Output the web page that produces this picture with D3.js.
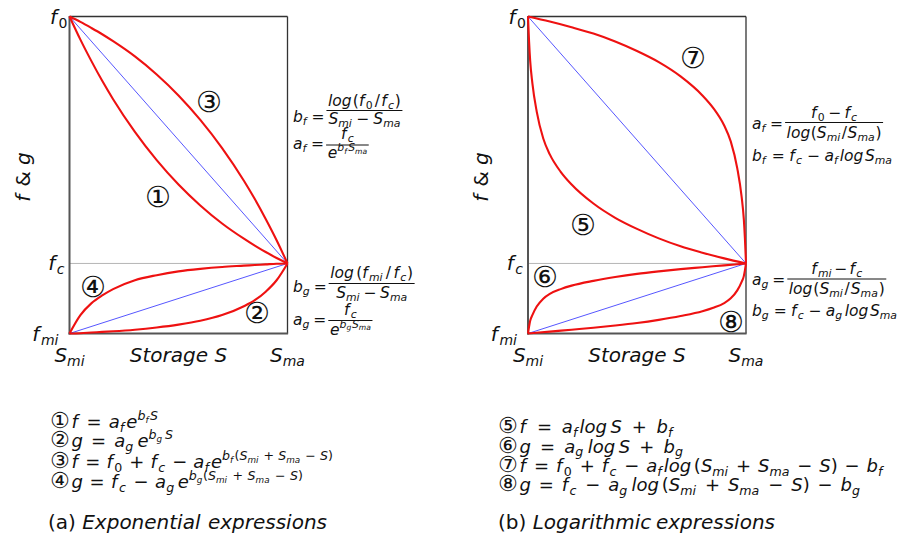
<!DOCTYPE html>
<html>
<head>
<meta charset="utf-8">
<script src="https://cdn.jsdelivr.net/npm/d3@7"></script>
<style>
  body { margin: 0; background: #fff; }
  svg { font-family: "DejaVu Sans", sans-serif; }
  text { white-space: pre; }
</style>
</head>
<body>
<svg id="chart" width="900" height="545"></svg>
<script>
// normalised storage S (Smi = 0, Sma = 1) and normalised f / g (fmi = 0, f0 = 1)
var fc = 0.221;

// (a) exponential curves
var sExp = [0, 0.05, 0.1, 0.15, 0.2, 0.3, 0.4, 0.5, 0.6, 0.7, 0.8, 0.85, 0.9, 0.95, 1];
var exp1 = [1.00, 0.927, 0.860, 0.797, 0.739, 0.636, 0.547, 0.470, 0.404, 0.347, 0.299, 0.277, 0.257, 0.238, 0.221];
var exp2 = [0, 0.001, 0.003, 0.005, 0.007, 0.012, 0.019, 0.028, 0.040, 0.058, 0.086, 0.105, 0.132, 0.168, 0.221];
var exp3 = [1.00, 0.983, 0.964, 0.944, 0.922, 0.874, 0.817, 0.751, 0.674, 0.585, 0.482, 0.424, 0.361, 0.294, 0.221];
var exp4 = [0, 0.058, 0.095, 0.12, 0.14, 0.168, 0.184, 0.196, 0.204, 0.210, 0.214, 0.216, 0.218, 0.220, 0.221];

// (b) logarithmic curves
var sLogA = [0, 0.005, 0.01, 0.02, 0.04, 0.07, 0.1, 0.15, 0.2, 0.3, 0.4, 0.5, 0.6, 0.7, 0.8, 0.9, 1];
var log5 = [1.0, 0.92, 0.86, 0.79, 0.70, 0.615, 0.565, 0.51, 0.47, 0.41, 0.365, 0.33, 0.30, 0.275, 0.255, 0.237, 0.221];
var log6 = [0, 0.022, 0.04, 0.058, 0.085, 0.11, 0.125, 0.14, 0.151, 0.166, 0.178, 0.188, 0.196, 0.203, 0.209, 0.215, 0.221];
var sLogB = [0, 0.1, 0.2, 0.3, 0.4, 0.5, 0.6, 0.7, 0.8, 0.85, 0.9, 0.93, 0.96, 0.98, 0.99, 0.995, 1];
var log7 = [1.0, 0.984, 0.966, 0.946, 0.921, 0.891, 0.856, 0.811, 0.751, 0.711, 0.656, 0.606, 0.521, 0.431, 0.361, 0.301, 0.221];
var log8 = [0, 0.006, 0.012, 0.018, 0.025, 0.033, 0.043, 0.055, 0.07, 0.081, 0.096, 0.111, 0.136, 0.163, 0.181, 0.199, 0.221];

// reference (straight) lines
var lineF = [[0, 1], [1, fc]];
var lineG = [[0, 0], [1, fc]];

// ticks
var yTickVals = [1, fc, 0];
var yTickLabels = ["f_{0}", "f_{c}", "f_{mi}"];
var xTickVals = [0, 1];
var xTickLabels = ["S_{mi}", "S_{ma}"];

// circled curve numbers, anchored in data units
var markersA = [["①", 0.406, 0.431], ["②", 0.86, 0.065], ["③", 0.64, 0.73], ["④", 0.108, 0.147]];
var markersB = [["⑤", 0.252, 0.342], ["⑥", 0.078, 0.178], ["⑦", 0.757, 0.869], ["⑧", 0.931, 0.036]];

// expression lists under the panels
var exprA = [
    "①f = a_{f}e^{b_{f}S}",
    "②g = a_{g} e^{b_{g} S}",
    "③f = f_{0} + f_{c} − a_{f}e^{b_{f}(S_{mi} + S_{ma} − S)}",
    "④g = f_{c} − a_{g} e^{b_{g}(S_{mi} + S_{ma} − S)}"
];
var exprB = [
    "⑤f = a_{f}log S + b_{f}",
    "⑥g = a_{g} log S + b_{g}",
    "⑦f = f_{0} + f_{c} − a_{f}log (S_{mi} + S_{ma} − S) − b_{f}",
    "⑧g = f_{c} − a_{g} log (S_{mi} + S_{ma} − S) − b_{g}"
];
// right ends of the list lines in the reference
var exprAEnd = [158, 173, 333, 303];
var exprBEnd = [675, 683, 885, 860];

var svg = d3.select("#chart");

// ---- tiny mathtext-like renderer ----
function parseMath(s) {
    var i = 0;
    function group() {
        var out = [];
        while (i < s.length) {
            var c = s[i];
            if (c === "}") { i++; return out; }
            if (c === "_" || c === "^") {
                i++;
                var kids;
                if (s[i] === "{") { i++; kids = group(); }
                else { kids = [{ t: "c", c: s[i] }]; i++; }
                out.push({ t: c === "_" ? "sub" : "sup", kids: kids });
                continue;
            }
            if (c === "!" && s[i + 1] === "{") {
                i += 2;
                out.push({ t: "rm", kids: group() });
                continue;
            }
            out.push({ t: "c", c: c });
            i++;
        }
        return out;
    }
    return group();
}

var circled = "①②③④⑤⑥⑦⑧";

function flatten(nodes, size, shift, rm, out) {
    nodes.forEach(function (n) {
        if (n.t === "sub" || n.t === "sup") {
            var sh = n.t === "sub" ? size * 0.2 : -size * 0.42;
            flatten(n.kids, size * 0.7, shift + sh, rm, out);
            out.push({ fixed: size * 0.06 });
        } else if (n.t === "rm") {
            flatten(n.kids, size, shift, true, out);
        } else {
            var ch = n.c;
            if (ch === " ") { out.push({ gap: 0.6 * size }); return; }
            if (ch === "~") ch = " ";
            var it = !rm && /[A-Za-z]/.test(ch);
            var circ = circled.indexOf(ch) >= 0;
            var sz = circ ? size * 1.22 : size;
            var op = "=+−".indexOf(ch) >= 0;
            if (op) out.push({ gap: size });
            out.push({ text: ch, size: sz, shift: shift, italic: it });
            if (op) out.push({ gap: size });
            if (circ) out.push({ fixed: size * 0.1 });
            if (it && ch === "f") out.push({ fixed: size * 0.08 });
        }
    });
    return out;
}

function mathText(g, x, y, str, size, anchor, target) {
    var toks = flatten(parseMath(str), size, 0, false, []);
    var runs = [], pendGap = 0, pendFix = 0;
    toks.forEach(function (k) {
        if (k.gap !== undefined) { pendGap += k.gap; return; }
        if (k.fixed !== undefined) { pendFix += k.fixed; return; }
        var last = runs[runs.length - 1];
        if (last && !pendGap && !pendFix && last.size === k.size && last.shift === k.shift && last.italic === k.italic) {
            last.text += k.text;
        } else {
            runs.push({ text: k.text, size: k.size, shift: k.shift, italic: k.italic, gap: runs.length ? pendGap : 0, fix: runs.length ? pendFix : 0 });
            pendGap = 0; pendFix = 0;
        }
    });
    var t = g.append("text")
        .attr("x", x).attr("y", y)
        .attr("font-size", size)
        .attr("text-anchor", anchor || "start")
        .attr("fill", "#111");
    var prev = 0, u0 = 0.12;
    var spans = runs.map(function (r) {
        var sp = t.append("tspan")
            .attr("dy", (r.shift - prev).toFixed(2))
            .attr("dx", (r.fix + u0 * r.gap).toFixed(2))
            .attr("font-size", r.size.toFixed(2))
            .attr("font-style", r.italic ? "italic" : "normal")
            .text(r.text);
        prev = r.shift;
        return sp;
    });
    if (target) {
        var gsum = d3.sum(runs, function (r) { return r.gap; });
        if (gsum > 0) {
            var w0 = t.node().getBBox().width;
            var u = Math.max(0.04, (target - (w0 - u0 * gsum)) / gsum);
            spans.forEach(function (sp, i) {
                sp.attr("dx", (runs[i].fix + u * runs[i].gap).toFixed(2));
            });
        }
    }
    return t;
}

// label = num / den, bar at barY
function fracEq(g, x, barY, label, num, den, size, off, tw) {
    tw = tw || [];
    var lt = mathText(g, x, barY + off[0], label, size);
    var left = x + lt.node().getBBox().width + 2;
    var nt = mathText(g, 0, barY + off[1], num, size, "middle", tw[0]);
    var dt = mathText(g, 0, barY + off[2], den, size, "middle", tw[1]);
    var w = Math.max(nt.node().getBBox().width, dt.node().getBBox().width) + 3;
    nt.attr("x", left + w / 2);
    dt.attr("x", left + w / 2);
    g.append("line")
        .attr("x1", left).attr("x2", left + w)
        .attr("y1", barY).attr("y2", barY)
        .attr("stroke", "#111").attr("stroke-width", 1);
}

var y = d3.scaleLinear().domain([0, 1]).range([333.5, 16.5]);

function drawPanel(x0, x1, curves, markers) {
    var x = d3.scaleLinear().domain([0, 1]).range([x0, x1]);
    var g = svg.append("g");

    var line = d3.line()
        .x(function (d) { return x(d[0]); })
        .y(function (d) { return y(d[1]); })
        .curve(d3.curveMonotoneX);

    // fc guide
    g.append("line")
        .attr("x1", x(0)).attr("x2", x(1))
        .attr("y1", y(fc)).attr("y2", y(fc))
        .attr("stroke", "#b5b5b5").attr("stroke-width", 1);

    // spines
    g.append("line").attr("x1", x(0)).attr("x2", x(1)).attr("y1", y(1)).attr("y2", y(1))
        .attr("stroke", "#333").attr("stroke-width", 1.3);
    g.append("line").attr("x1", x(1)).attr("x2", x(1)).attr("y1", y(1)).attr("y2", y(0))
        .attr("stroke", "#333").attr("stroke-width", 1.3);
    g.append("line").attr("x1", x(0)).attr("x2", x(0)).attr("y1", y(1) - 0.6).attr("y2", y(0) + 1)
        .attr("stroke", "#555").attr("stroke-width", 2);
    g.append("line").attr("x1", x(0) - 1).attr("x2", x(1) + 0.6).attr("y1", y(0)).attr("y2", y(0))
        .attr("stroke", "#555").attr("stroke-width", 2);

    // straight reference lines
    [lineF, lineG].forEach(function (l) {
        g.append("path").attr("d", line(l))
            .attr("fill", "none").attr("stroke", "#2b2bff").attr("stroke-width", 0.8);
    });

    // curves
    curves.forEach(function (c) {
        var pts = c[0].map(function (s, i) { return [s, c[1][i]]; });
        g.append("path").attr("d", line(pts))
            .attr("fill", "none").attr("stroke", "#ee1111")
            .attr("stroke-width", 2.1).attr("stroke-linejoin", "round");
    });

    // circled numbers
    markers.forEach(function (m) {
        g.append("text").attr("x", x(m[1])).attr("y", y(m[2]))
            .attr("text-anchor", "middle").attr("dominant-baseline", "central")
            .attr("font-size", 29).attr("fill", "#111").text(m[0]);
    });

    // tick labels
    var yOff = [-2, -5, -11];
    yTickVals.forEach(function (v, i) {
        mathText(g, x(0) + yOff[i], y(v) + 7, yTickLabels[i], 20, "end");
    });
    xTickVals.forEach(function (v, i) {
        mathText(g, x(v), y(0) + 28, xTickLabels[i], 20, "middle");
    });

    mathText(g, (x(0) + x(1)) / 2, 362, "Storage~S", 20, "middle");

    return g;
}

var gA = drawPanel(69.5, 287.5, [[sExp, exp1], [sExp, exp2], [sExp, exp3], [sExp, exp4]], markersA);
var gB = drawPanel(528, 746, [[sLogA, log5], [sLogA, log6], [sLogB, log7], [sLogB, log8]], markersB);

// y labels
[23, 481].forEach(function (cx) {
    var t = mathText(svg, 0, 0, "f~!{&}~g", 20, "middle");
    t.attr("transform", "translate(" + (cx + 7) + ",177) rotate(-90)");
});

// coefficient formulas
var F = 15.5;
fracEq(gA, 293, 110.5, "b_{f} =", "log (f_{0} / f_{c})", "S_{mi} − S_{ma}", F, [11, -5, 13], [73, 72]);
fracEq(gA, 293, 145, "a_{f} =", "f_{c}", "e^{b_{f}S_{ma}}", F, [4, -6, 13]);
fracEq(gA, 293, 283.5, "b_{g} =", "log (f_{mi} / f_{c})", "S_{mi} − S_{ma}", F, [8, -6, 14], [83, 71]);
fracEq(gA, 293, 320.5, "a_{g} =", "f_{c}", "e^{b_{g}S_{ma}}", F, [4, -6, 14]);

fracEq(gB, 752, 122.5, "a_{f} =", "f_{0} − f_{c}", "log (S_{mi} / S_{ma})", F, [6, -5, 15], [46, 95]);
mathText(gB, 752, 160.5, "b_{f} = f_{c} − a_{f}log S_{ma}", F, "start", 140);
fracEq(gB, 752, 279, "a_{g} =", "f_{mi} − f_{c}", "log (S_{mi} / S_{ma})", F, [6, -5, 15], [51, 96]);
mathText(gB, 752, 315.5, "b_{g} = f_{c} − a_{g} log S_{ma}", F, "start", 145);

// expression lists
var L = 18;
var baseA = [428, 447, 468, 488];
var baseB = [433, 452.5, 472, 491];
exprA.forEach(function (s, i) { mathText(svg, 50, baseA[i], s, L, "start", exprAEnd[i] - 50); });
exprB.forEach(function (s, i) { mathText(svg, 498, baseB[i], s, L, "start", exprBEnd[i] - 498); });

mathText(svg, 48, 529, "!{(a)}~Exponential expressions", 20, "start", 279);
mathText(svg, 498, 529, "!{(b)}~Logarithmic expressions", 20, "start", 277);
</script>
</body>
</html>
